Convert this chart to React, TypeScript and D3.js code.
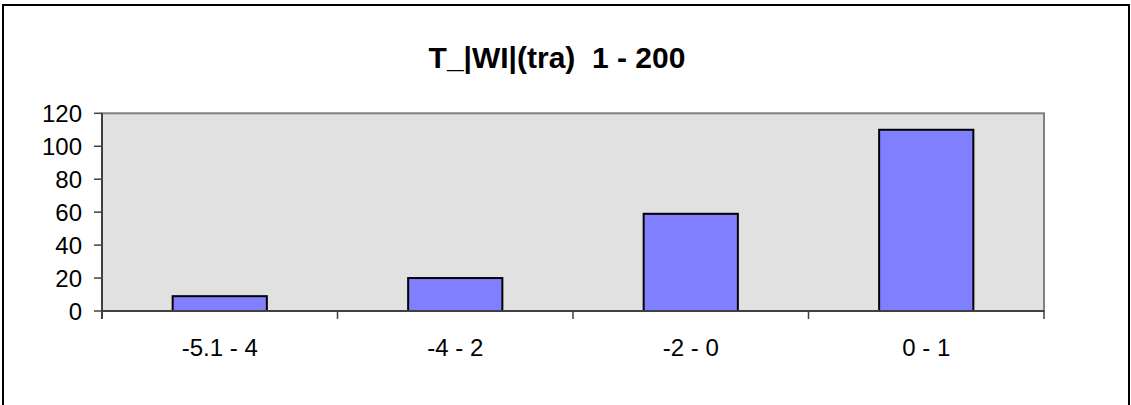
import React from "react";
import * as d3 from "d3";

const categories = ["-5.1 - 4", "-4 - 2", "-2 - 0", "0 - 1"];
const values = [9, 20, 59, 110];
const yTicks = [0, 20, 40, 60, 80, 100, 120];
const title = "T_|WI|(tra)  1 - 200";

export default function App() {
  const W = 1131, H = 405;
  const left = 102, right = 1044, top = 113.3, bottom = 311;
  const x = d3.scaleBand<string>().domain(categories).range([left, right]).paddingInner(0.6).paddingOuter(0.3);
  const xb = d3.scaleBand<string>().domain(categories).range([left, right]);
  const y = d3.scaleLinear().domain([0, 120]).range([bottom, top]);
  const font = "'Liberation Sans', Arial, sans-serif";
  return (
    <svg width={W} height={H} style={{ position: "absolute", left: 0, top: 0, background: "#fff" }}>
      <rect x={3} y={5} width={1126} height={420} fill="none" stroke="#000" strokeWidth={2} />
      <text x={557} y={68} textAnchor="middle" fontFamily={font} fontWeight="bold" fontSize={30} style={{ whiteSpace: "pre" }}>{title}</text>
      <rect x={left} y={top} width={right - left} height={bottom - top} fill="#e1e1e1" stroke="#808080" strokeWidth={2} />
      {values.map((v, i) => (
        <rect key={i} x={x(categories[i])!} y={y(v)} width={x.bandwidth()} height={bottom - y(v)}
          fill="#8080ff" stroke="#000" strokeWidth={2} />
      ))}
      <line x1={left} x2={left} y1={top} y2={bottom + 8} stroke="#404040" strokeWidth={2} />
      <line x1={left} x2={right} y1={bottom} y2={bottom} stroke="#404040" strokeWidth={2} />
      {yTicks.map((t) => (
        <g key={t}>
          <line x1={left - 8} x2={left} y1={y(t)} y2={y(t)} stroke="#404040" strokeWidth={1.5} />
          <text x={82} y={y(t)} dy="0.36em" textAnchor="end" fontFamily={font} fontSize={24}>{t}</text>
        </g>
      ))}
      {categories.map((c, i) => (
        <g key={c}>
          <line x1={xb(c)! + xb.bandwidth()} x2={xb(c)! + xb.bandwidth()} y1={bottom} y2={bottom + 8} stroke="#404040" strokeWidth={1.5} />
          <text x={xb(c)! + xb.bandwidth() / 2} y={356} textAnchor="middle" fontFamily={font} fontSize={24} style={{ whiteSpace: "pre" }}>{c}</text>
        </g>
      ))}
    </svg>
  );
}
